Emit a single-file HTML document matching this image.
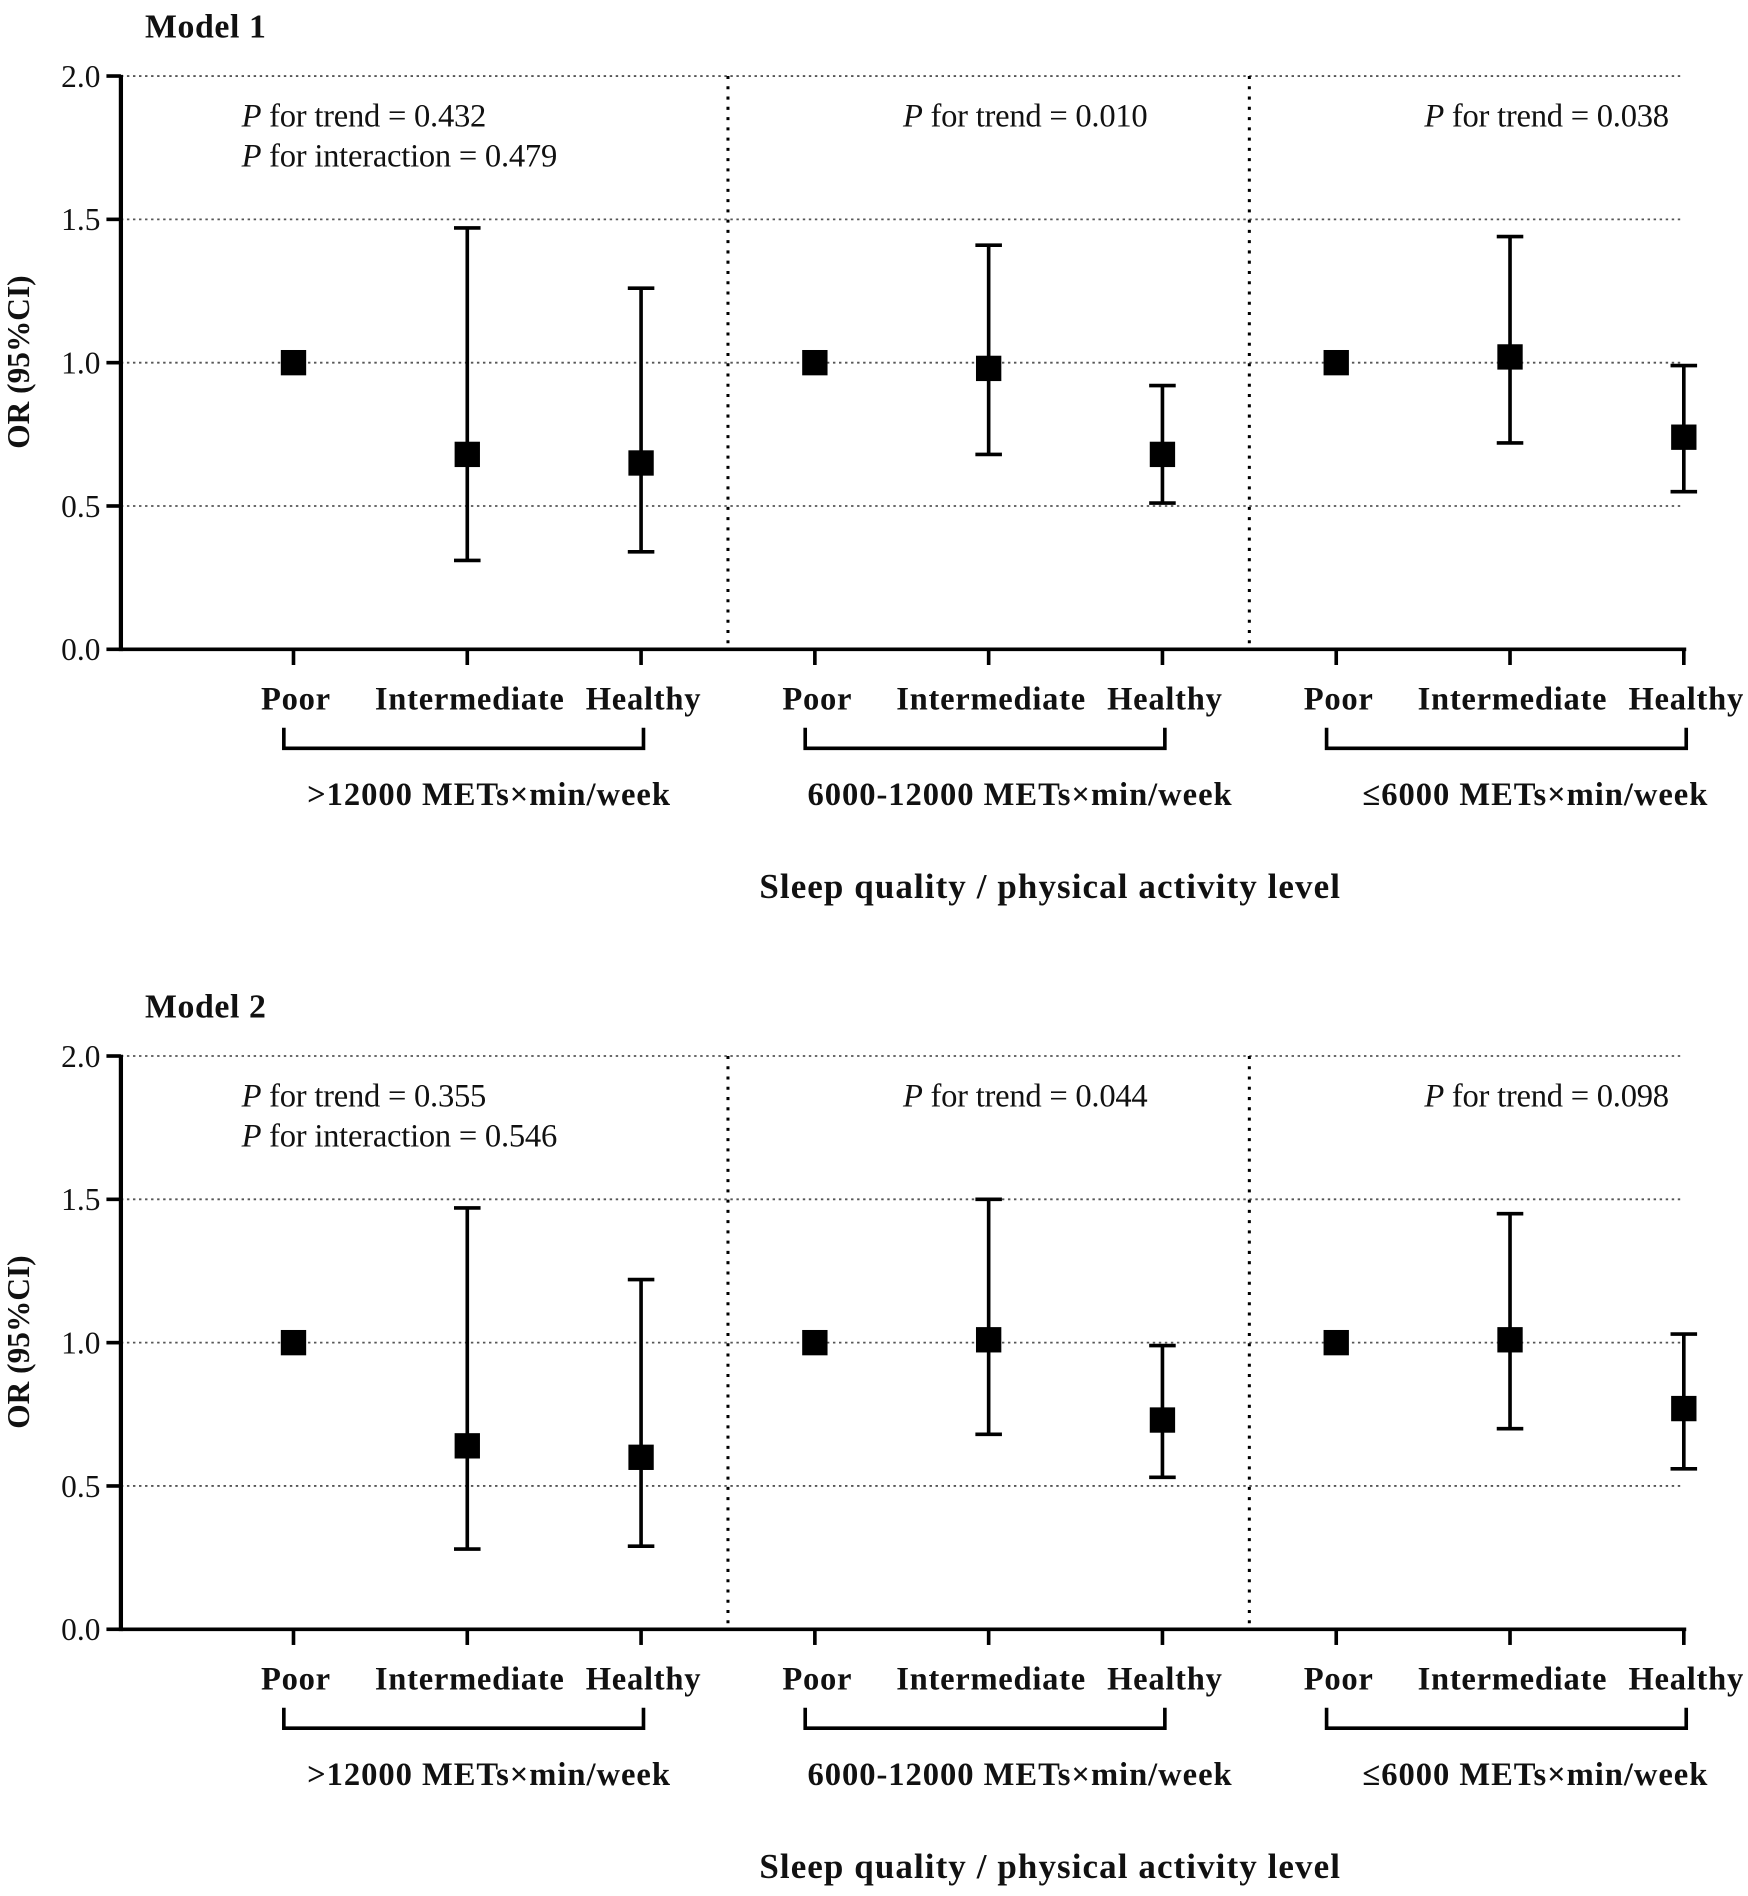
<!DOCTYPE html>
<html><head><meta charset="utf-8"><style>
html,body{margin:0;padding:0;background:#fff}
svg{display:block}
text{font-family:"Liberation Serif",serif;fill:#111}
.b{font-weight:bold}
</style></head><body>
<svg id="chart" width="1748" height="1896" viewBox="0 0 1448 1571" xmlns="http://www.w3.org/2000/svg"></svg>
<script>
const groups = [">12000 METs\u00d7min/week", "6000-12000 METs\u00d7min/week", "\u22646000 METs\u00d7min/week"];
const categories = ["Poor", "Intermediate", "Healthy"];
const yTicks = [0, 0.5, 1.0, 1.5, 2.0];
const m1Or = [1, 0.68, 0.65, 1, 0.98, 0.68, 1, 1.02, 0.74];
const m1Lo = [null, 0.31, 0.34, null, 0.68, 0.51, null, 0.72, 0.55];
const m1Hi = [null, 1.47, 1.26, null, 1.41, 0.92, null, 1.44, 0.99];
const m2Or = [1, 0.64, 0.60, 1, 1.01, 0.73, 1, 1.01, 0.77];
const m2Lo = [null, 0.28, 0.29, null, 0.68, 0.53, null, 0.70, 0.56];
const m2Hi = [null, 1.47, 1.22, null, 1.50, 0.99, null, 1.45, 1.03];
const m1Trend = ["0.432", "0.010", "0.038"];
const m2Trend = ["0.355", "0.044", "0.098"];
const interactions = ["0.479", "0.546"];
const models = [
  {title:"Model 1", or:m1Or, lo:m1Lo, hi:m1Hi, trend:m1Trend, inter:interactions[0], off:0},
  {title:"Model 2", or:m2Or, lo:m2Lo, hi:m2Hi, trend:m2Trend, inter:interactions[1], off:812}
];
const svg = document.getElementById('chart');
const NS = "http://www.w3.org/2000/svg";
function el(tag, attrs, parent){const e=document.createElementNS(NS,tag);for(const k in attrs)e.setAttribute(k,attrs[k]);(parent||svg).appendChild(e);return e;}
function txt(s, attrs, parent){const e=el('text',attrs,parent);e.textContent=s;return e;}
const X0=100, XR=1395;
function xPos(i){return 243+144*i;}
models.forEach((m, mi)=>{
  const g=el('g',{});
  
  
  const yS=v=>m.off+538-v*237.5;
  const t=txt(m.title,{x:120,y:m.off+31,'font-size':28,class:'b','letter-spacing':0.5},g);
   
  yTicks.forEach(v=>{
    if(v>0){const l=el('line',{x1:X0,x2:XR,y1:yS(v),y2:yS(v),stroke:'#555','stroke-width':1.5,'stroke-dasharray':'2 3'},g);
       }
    el('line',{x1:X0-12,x2:X0,y1:yS(v),y2:yS(v),stroke:'#000','stroke-width':3},g);
    const tl=txt(v.toFixed(1),{x:X0-17,y:yS(v)+9,'font-size':26,'text-anchor':'end'},g);
     
  });
  [603,1035].forEach(x=>{const s=el('line',{x1:x,x2:x,y1:yS(2),y2:yS(0),stroke:'#000','stroke-width':2.5,'stroke-dasharray':'2.5 6'},g);
     });
  el('line',{x1:X0,x2:X0,y1:yS(2)-1,y2:yS(0)+1.5,stroke:'#000','stroke-width':3.5},g);
  const xa=el('line',{x1:X0,x2:XR+2,y1:yS(0),y2:yS(0),stroke:'#000','stroke-width':3},g);
   
  const yl=txt('OR (95%CI)',{x:0,y:0,'font-size':26,class:'b','text-anchor':'middle',transform:`translate(24,${m.off+300}) rotate(-90)`},g);
   
  for(let i=0;i<9;i++){
    const x=xPos(i);
    el('line',{x1:x,x2:x,y1:yS(0),y2:yS(0)+13,stroke:'#000','stroke-width':3},g);
    const cl=txt(categories[i%3],{x:x+2,y:m.off+588,'font-size':27,class:'b','text-anchor':'middle','letter-spacing':0.6},g);
     
    if(m.lo[i]!==null){
      const eb=el('path',{d:`M${x-11},${yS(m.hi[i])}H${x+11}M${x},${yS(m.hi[i])}V${yS(m.lo[i])}M${x-11},${yS(m.lo[i])}H${x+11}`,stroke:'#000','stroke-width':3,fill:'none'},g);
       
    }
    const p=el('rect',{x:x-10.5,y:yS(m.or[i])-10.5,width:21,height:21,fill:'#000'},g);
     
  }
  for(let k=0;k<3;k++){
    const a=xPos(3*k)-8, b=xPos(3*k+2)+2;
    const br=el('path',{d:`M${a},${m.off+603}V${m.off+620}H${b}V${m.off+603}`,stroke:'#000','stroke-width':3,fill:'none'},g);
     
    const gl=txt(groups[k],{x:[405,845,1272][k],y:m.off+667,'font-size':27,class:'b','text-anchor':'middle','letter-spacing':0.8},g);
     
    const tx=[200,748,1180][k];
    const tr=el('text',{x:tx,y:m.off+105,'font-size':27,'letter-spacing':-0.2},g);
    tr.innerHTML=`<tspan font-style="italic">P</tspan> for trend = ${m.trend[k]}`;
     
  }
  const it=el('text',{x:200,y:m.off+138,'font-size':27,'letter-spacing':-0.2},g);
  it.innerHTML=`<tspan font-style="italic">P</tspan> for interaction = ${m.inter}`;
   
  const xt=txt('Sleep quality / physical activity level',{x:870,y:m.off+744,'font-size':29,class:'b','text-anchor':'middle','letter-spacing':0.9},g);
   
});
</script>
</body></html>
